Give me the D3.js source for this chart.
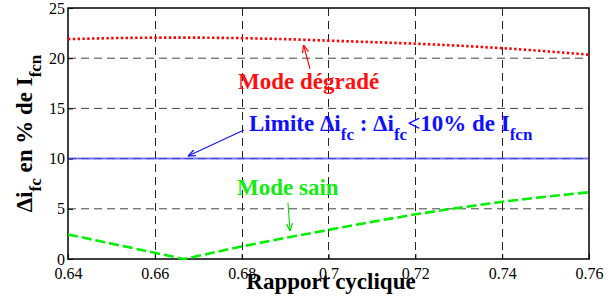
<!DOCTYPE html>
<html>
<head>
<meta charset="utf-8">
<script src="https://cdn.jsdelivr.net/npm/d3@7"></script>
</head>
<body style="margin:0">
<script>
// Data
const xTicks = [0.64, 0.66, 0.68, 0.7, 0.72, 0.74, 0.76];
const yTicks = [0, 5, 10, 15, 20, 25];

const degradeX = [0.64, 0.65, 0.66, 0.67, 0.68, 0.69, 0.70, 0.71, 0.72, 0.73, 0.74, 0.75, 0.76];
const degradeY = [21.9, 22.0, 22.05, 22.05, 22.0, 21.9, 21.75, 21.6, 21.45, 21.25, 21.0, 20.7, 20.35];

const sainX = [0.64, 0.6667, 0.68, 0.69, 0.70, 0.71, 0.72, 0.73, 0.74, 0.75, 0.76];
const sainY = [2.45, 0, 1.25, 2.1, 2.9, 3.7, 4.45, 5.1, 5.7, 6.2, 6.65];

const limitY = 10;

const SERIF = 'Liberation Serif';
const width = 613, height = 300;
const margin = { top: 8, right: 24, bottom: 41, left: 68 };

const svg = d3.select('body')
    .append('svg')
    .attr('width', width)
    .attr('height', height)
    .style('font-family', `"${SERIF}"`);

const defs = svg.append('defs');
function marker(id, color) {
    defs.append('marker')
        .attr('id', id)
        .attr('viewBox', '0 0 10 10')
        .attr('refX', 10).attr('refY', 5)
        .attr('markerWidth', 7).attr('markerHeight', 7)
        .attr('orient', 'auto')
        .append('path')
        .attr('d', 'M0,1 L10,5 L0,9')
        .attr('fill', 'none')
        .attr('stroke', color)
        .attr('stroke-width', 1.6);
}
marker('arr-red', '#ff0000');
marker('arr-blue', '#1010ff');
marker('arr-green', '#00e000');

const x = d3.scaleLinear().domain([0.64, 0.76]).range([margin.left, width - margin.right]);
const y = d3.scaleLinear().domain([0, 25]).range([height - margin.bottom, margin.top]);

// Grid
const grid = svg.append('g')
    .attr('stroke', '#222')
    .attr('stroke-width', 1)
    .attr('stroke-dasharray', '8,5');

grid.selectAll('.vg')
    .data(xTicks.slice(1, -1))
    .join('line')
    .attr('x1', d => Math.round(x(d)) + 0.5).attr('x2', d => Math.round(x(d)) + 0.5)
    .attr('y1', y(25)).attr('y2', y(0));

grid.selectAll('.hg')
    .data(yTicks.slice(1, -1))
    .join('line')
    .attr('stroke', '#444')
    .attr('y1', d => y(d)).attr('y2', d => y(d))
    .attr('x1', x(0.64)).attr('x2', x(0.76));

// Axes
const xAxis = d3.axisBottom(x).tickValues(xTicks).tickSize(-5).tickPadding(9)
    .tickFormat(d => String(+d.toFixed(2)));
const yAxis = d3.axisLeft(y).tickValues(yTicks).tickSize(-5).tickPadding(3);

function styleAxis(g) {
    g.attr('font-family', SERIF).attr('font-size', 16);
    g.select('.domain').remove();
    g.selectAll('.tick text')
        .style('font-family', `"${SERIF}"`)
        .style('font-size', '16px')
        .attr('fill', '#000');
}

svg.append('g')
    .attr('transform', `translate(0,${y(0)})`)
    .call(xAxis)
    .call(styleAxis);

svg.append('g')
    .attr('transform', `translate(${x(0.64)},0)`)
    .call(yAxis)
    .call(styleAxis);

// Frame
svg.append('rect')
    .attr('x', x(0.64)).attr('y', y(25))
    .attr('width', x(0.76) - x(0.64))
    .attr('height', y(0) - y(25))
    .attr('fill', 'none')
    .attr('stroke', '#000')
    .attr('stroke-width', 1.5);

// Series
const line = d3.line().x(d => x(d[0])).y(d => y(d[1]));

svg.append('line')
    .attr('x1', x(0.64)).attr('x2', x(0.76))
    .attr('y1', y(limitY)).attr('y2', y(limitY))
    .attr('stroke', '#3a3aff')
    .attr('stroke-opacity', 0.7)
    .attr('stroke-width', 2);

svg.append('path')
    .datum(d3.zip(degradeX, degradeY))
    .attr('d', line)
    .attr('fill', 'none')
    .attr('stroke', '#ff0000')
    .attr('stroke-width', 2.6)
    .attr('stroke-dasharray', '2.4,2.4');

svg.append('path')
    .datum(d3.zip(sainX, sainY))
    .attr('d', line)
    .attr('fill', 'none')
    .attr('stroke', '#00ee00')
    .attr('stroke-width', 2.6)
    .attr('stroke-dasharray', '10,4');

// Annotations
function arrow(x1, y1, x2, y2, color, id) {
    svg.append('line')
        .attr('x1', x1).attr('y1', y1).attr('x2', x2).attr('y2', y2)
        .attr('stroke', color).attr('stroke-width', 1.1)
        .attr('marker-end', `url(#${id})`);
}
arrow(310, 69, 303.5, 45, '#ff0000', 'arr-red');
arrow(244, 130, 188, 156, '#1010ff', 'arr-blue');
arrow(288, 203, 290, 231, '#00e000', 'arr-green');

function label(tx, ty, color) {
    return svg.append('text')
        .attr('x', tx).attr('y', ty)
        .attr('fill', color)
        .style('font-family', `"${SERIF}"`)
        .style('font-weight', 'bold')
        .style('font-size', '23px');
}

label(238, 89, '#ff1010').text('Mode dégradé');

const lim = label(249, 131, '#1010ff');
lim.append('tspan').text('Limite Δi');
lim.append('tspan').attr('dy', 9).style('font-size', '17px').text('fc');
lim.append('tspan').attr('dy', -9).text(' : Δi');
lim.append('tspan').attr('dy', 9).style('font-size', '17px').text('fc');
lim.append('tspan').attr('dy', -9).text('<10% de I');
lim.append('tspan').attr('dy', 9).style('font-size', '17px').text('fcn');

label(237, 195, '#10ee10').text('Mode sain');

label(331, 289, '#000')
    .attr('text-anchor', 'middle')
    .text('Rapport cyclique');

const yl = label(0, 0, '#000')
    .attr('transform', `translate(32,${(y(0) + y(25)) / 2}) rotate(-90)`)
    .attr('text-anchor', 'middle');
yl.append('tspan').text('Δi');
yl.append('tspan').attr('dy', 9).style('font-size', '17px').text('fc');
yl.append('tspan').attr('dy', -9).text(' en % de I');
yl.append('tspan').attr('dy', 9).style('font-size', '17px').text('fcn');
</script>
</body>
</html>
